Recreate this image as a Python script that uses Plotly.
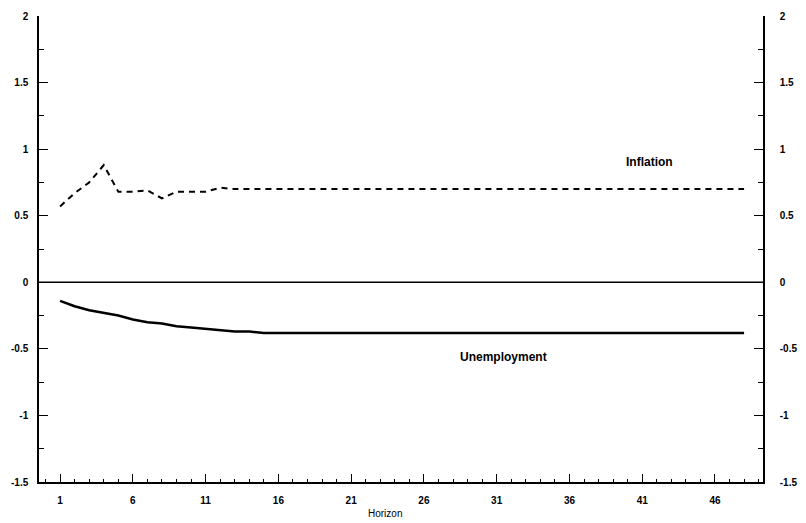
import plotly.graph_objects as go

# Impulse-response horizon (periods)
horizon = list(range(1, 49))

# Inflation response (dashed)
inflation = [0.57, 0.67, 0.75, 0.88, 0.68, 0.68, 0.69, 0.63, 0.68, 0.68,
             0.68, 0.71, 0.70, 0.70, 0.70, 0.70, 0.70, 0.70, 0.70, 0.70,
             0.70, 0.70, 0.70, 0.70, 0.70, 0.70, 0.70, 0.70, 0.70, 0.70,
             0.70, 0.70, 0.70, 0.70, 0.70, 0.70, 0.70, 0.70, 0.70, 0.70,
             0.70, 0.70, 0.70, 0.70, 0.70, 0.70, 0.70, 0.70]

# Unemployment response (solid)
unemployment = [-0.14, -0.18, -0.21, -0.23, -0.25, -0.28, -0.30, -0.31, -0.33, -0.34,
                -0.35, -0.36, -0.37, -0.37, -0.38, -0.38, -0.38, -0.38, -0.38, -0.38,
                -0.38, -0.38, -0.38, -0.38, -0.38, -0.38, -0.38, -0.38, -0.38, -0.38,
                -0.38, -0.38, -0.38, -0.38, -0.38, -0.38, -0.38, -0.38, -0.38, -0.38,
                -0.38, -0.38, -0.38, -0.38, -0.38, -0.38, -0.38, -0.38]

x_ticks = [1, 6, 11, 16, 21, 26, 31, 36, 41, 46]
y_ticks = [-1.5, -1, -0.5, 0, 0.5, 1, 1.5, 2]
y_tick_text = ["-1.5", "-1", "-0.5", "0", "0.5", "1", "1.5", "2"]

FONT = "Liberation Sans"
TICK_FONT = dict(family=FONT, size=10, color="black", weight="bold")

fig = go.Figure()
fig.add_trace(go.Scatter(
    x=horizon, y=inflation, mode="lines", name="Inflation",
    line=dict(color="black", width=2, dash="6px,5px"),
))
fig.add_trace(go.Scatter(
    x=horizon, y=unemployment, mode="lines", name="Unemployment",
    line=dict(color="black", width=2.5),
))
# invisible trace to activate the right-hand axis
fig.add_trace(go.Scatter(x=[horizon[0]], y=[0], yaxis="y2", mode="markers",
                         marker=dict(opacity=0), showlegend=False, hoverinfo="skip"))

yaxis_common = dict(
    range=[-1.5, 2], tickvals=y_ticks, ticktext=y_tick_text,
    ticks="inside", ticklen=9, tickwidth=1, tickcolor="black",
    showline=True, linecolor="black", linewidth=1.5,
    showgrid=False, zeroline=False, automargin=False,
    tickfont=TICK_FONT,
    minor=dict(ticks="inside", ticklen=5, dtick=0.25, tick0=0, tickcolor="black"),
)

fig.update_layout(
    width=806, height=523,
    margin=dict(l=39, r=43, t=16, b=41),
    paper_bgcolor="white", plot_bgcolor="white",
    showlegend=False,
    font=dict(family=FONT, color="black"),
    xaxis=dict(
        range=[-0.45, 49.3], tickvals=x_ticks,
        ticks="inside", ticklen=8, tickwidth=1, tickcolor="black",
        showline=True, linecolor="black", linewidth=1.5,
        showgrid=False, zeroline=False, automargin=False,
        tickfont=TICK_FONT, ticklabelstandoff=8,
        minor=dict(ticks="inside", ticklen=3, dtick=1, tick0=1, tickcolor="black"),
    ),
    yaxis=dict(side="left", ticklabelstandoff=7, **yaxis_common),
    yaxis2=dict(side="right", overlaying="y", ticklabelstandoff=13, **yaxis_common),
    shapes=[dict(type="line", xref="paper", x0=0, x1=1, yref="y", y0=0, y1=0,
                 line=dict(color="black", width=1.5))],
    annotations=[
        dict(x=41.5, y=0.9, xref="x", yref="y", text="Inflation", showarrow=False,
             font=dict(family=FONT, size=12, color="black", weight="bold")),
        dict(x=31.5, y=-0.56, xref="x", yref="y", text="Unemployment", showarrow=False,
             font=dict(family=FONT, size=12, color="black", weight="bold")),
        # x-axis title, sitting just left of centre under the tick labels
        dict(x=23.3, y=0, xref="x", yref="paper", yshift=-24, yanchor="top",
             text="Horizon", showarrow=False,
             font=dict(family=FONT, size=10, color="black")),
    ],
)

fig.write_html("out.html")
